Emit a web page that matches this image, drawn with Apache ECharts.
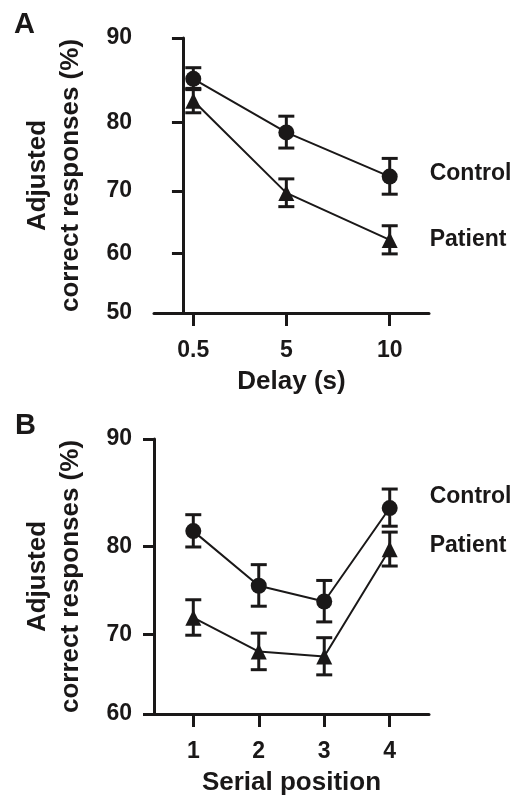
<!DOCTYPE html>
<html>
<head>
<meta charset="utf-8">
<script src="https://cdn.jsdelivr.net/npm/echarts@6/dist/echarts.min.js"></script>
<style>
html, body { margin: 0; padding: 0; background: #fff; }
#chart { width: 527px; height: 797px; }
</style>
</head>
<body>
<div id="chart"></div>
<script>
// panel A: delay
const delays = [0.5, 5, 10];
const controlA = [85.5, 78.6, 72.2];
const controlSemA = [1.3, 2.2, 2.7];
const patientA = [82.8, 69.7, 62.2];
const patientSemA = [1.55, 2.15, 2.3];
const ticksA = [50, 60, 70, 80, 90];

// panel B: serial position
const positions = [1, 2, 3, 4];
const controlB = [81.6, 75.7, 73.9, 83.9];
const controlSemB = [1.65, 2.35, 2.4, 1.8];
const patientB = [72.0, 67.9, 67.3, 79.7];
const patientSemB = [2.1, 2.25, 2.3, 1.8];
const ticksB = [60, 70, 80, 90];

const ink = '#1a1818';
const font = '"Liberation Sans", Arial, Helvetica, sans-serif';

// y axis is arcsine-square-root scaled
const toAxis = p => Math.asin(Math.sqrt(p / 100));
const fromAxis = v => Math.round(Math.pow(Math.sin(v), 2) * 100);

const xAxisBase = (idx, min, max, ticks, name) => ({
  type: 'value',
  gridIndex: idx,
  min, max,
  name,
  nameLocation: 'middle',
  nameGap: 56,
  nameTextStyle: { color: ink, fontSize: 26, fontWeight: 'bold', fontFamily: font },
  axisLine: { lineStyle: { color: ink, width: 3 } },
  axisTick: { length: 13, lineStyle: { color: ink, width: 3 }, customValues: ticks },
  axisLabel: { color: ink, fontSize: 23, fontWeight: 'bold', fontFamily: font, margin: 26, customValues: ticks },
  splitLine: { show: false }
});

const yAxisBase = (idx, ticks) => ({
  type: 'value',
  gridIndex: idx,
  min: toAxis(ticks[0]),
  max: toAxis(ticks[ticks.length - 1]),
  name: 'Adjusted\ncorrect responses (%)',
  nameLocation: 'middle',
  nameRotate: 90,
  nameGap: 67,
  nameTextStyle: { color: ink, fontSize: 26, fontWeight: 'bold', fontFamily: font, lineHeight: 33 },
  axisLine: { lineStyle: { color: ink, width: 3 } },
  axisTick: { length: 11, lineStyle: { color: ink, width: 3 }, customValues: ticks.map(toAxis) },
  axisLabel: {
    color: ink, fontSize: 23, fontWeight: 'bold', fontFamily: font, margin: 22,
    customValues: ticks.map(toAxis),
    formatter: v => String(fromAxis(v))
  },
  splitLine: { show: false }
});

const lineSeries = (idx, name, symbol, xs, means, labelDy) => ({
  type: 'line',
  name,
  xAxisIndex: idx,
  yAxisIndex: idx,
  data: xs.map((x, i) => [x, toAxis(means[i])]),
  symbol,
  symbolSize: 16,
  itemStyle: { color: ink },
  lineStyle: { color: ink, width: 2 },
  z: 4,
  endLabel: {
    show: true,
    formatter: name,
    color: ink,
    fontSize: 23,
    fontWeight: 'bold',
    fontFamily: font,
    distance: 40,
    offset: [0, labelDy]
  }
});

const errorSeries = (idx, xs, means, sems) => ({
  type: 'custom',
  xAxisIndex: idx,
  yAxisIndex: idx,
  encode: { x: 0, y: [1, 2] },
  data: xs.map((x, i) => [x, toAxis(means[i] - sems[i]), toAxis(means[i] + sems[i])]),
  z: 3,
  silent: true,
  renderItem: (params, api) => {
    const lo = api.coord([api.value(0), api.value(1)]);
    const hi = api.coord([api.value(0), api.value(2)]);
    const w = 8;
    const style = { stroke: ink, lineWidth: 3 };
    return {
      type: 'group',
      children: [
        { type: 'line', shape: { x1: lo[0], y1: lo[1], x2: hi[0], y2: hi[1] }, style },
        { type: 'line', shape: { x1: lo[0] - w, y1: lo[1], x2: lo[0] + w, y2: lo[1] }, style },
        { type: 'line', shape: { x1: hi[0] - w, y1: hi[1], x2: hi[0] + w, y2: hi[1] }, style }
      ]
    };
  }
});

const chart = echarts.init(document.getElementById('chart'), null, { renderer: 'canvas' });

chart.setOption({
  animation: false,
  backgroundColor: '#fff',
  title: [
    { text: 'A', left: 14, top: 10, padding: 0, textStyle: { color: ink, fontSize: 29, fontWeight: 'bold', fontFamily: font } },
    { text: 'B', left: 15, top: 411, padding: 0, textStyle: { color: ink, fontSize: 29, fontWeight: 'bold', fontFamily: font } }
  ],
  grid: [
    { left: 154, top: 38, width: 275, height: 275 },
    { left: 154, top: 439, width: 275, height: 276 }
  ],
  xAxis: [
    xAxisBase(0, -1.4, 11.9, delays, 'Delay (s)'),
    xAxisBase(1, 0.4, 4.6, positions, 'Serial position')
  ],
  yAxis: [
    yAxisBase(0, ticksA),
    yAxisBase(1, ticksB)
  ],
  series: [
    errorSeries(0, delays, controlA, controlSemA),
    errorSeries(0, delays, patientA, patientSemA),
    lineSeries(0, 'Control', 'circle', delays, controlA, -3),
    lineSeries(0, 'Patient', 'triangle', delays, patientA, 0),
    errorSeries(1, positions, controlB, controlSemB),
    errorSeries(1, positions, patientB, patientSemB),
    lineSeries(1, 'Control', 'circle', positions, controlB, -11),
    lineSeries(1, 'Patient', 'triangle', positions, patientB, -4)
  ]
});

window.addEventListener('resize', () => chart.resize());
</script>
</body>
</html>
